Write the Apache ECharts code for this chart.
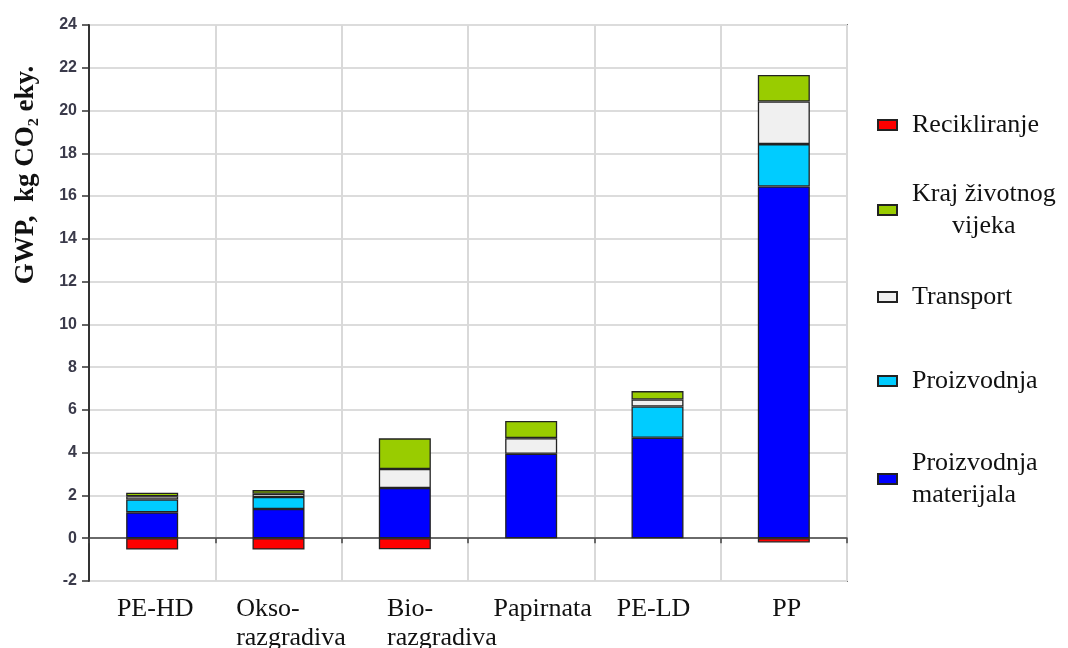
<!DOCTYPE html>
<html>
<head>
<meta charset="utf-8">
<script src="https://cdn.jsdelivr.net/npm/echarts@6/dist/echarts.min.js"></script>
<style>
html,body{margin:0;padding:0;background:#fff;}
#c{width:1068px;height:648px;}
</style>
</head>
<body>
<div id="c"></div>
<script>
var categories = ['PE-HD', 'Okso-\nrazgradiva', 'Bio-\nrazgradiva', 'Papirnata', 'PE-LD', 'PP'];
var recikliranje = [-0.53, -0.53, -0.52, null, null, -0.2];
var materijala = [1.21, 1.37, 2.35, 3.95, 4.70, 16.45];
var proizvodnja = [0.60, 0.56, null, null, 1.46, 1.98];
var transport = [0.15, 0.15, 0.89, 0.73, 0.33, 1.99];
var kraj = [0.17, 0.17, 1.43, 0.80, 0.39, 1.24];
var yTicks = [-2, 0, 2, 4, 6, 8, 10, 12, 14, 16, 18, 20, 22, 24];

var serif = "'Liberation Serif', 'Times New Roman', serif";
var names = ['Recikliranje', 'Kraj životnog vijeka', 'Transport', 'Proizvodnja', 'Proizvodnja materijala'];
var colors = {
  'Recikliranje': '#ff0000',
  'Kraj životnog vijeka': '#99cc00',
  'Transport': '#f0f0f0',
  'Proizvodnja': '#00ccff',
  'Proizvodnja materijala': '#0000ff'
};
var legendTops = [112, 181, 284, 368, 450];
var labelPad = [[0,0,0,6],[0,0,0,25],[0,0,0,74],[0,0,0,23],[0,8,0,0],[0,0,0,6]];

function mkSeries(name, data) {
  return {
    name: name, type: 'bar', stack: 'total', data: data, barWidth: 52,
    itemStyle: { color: colors[name], borderColor: '#222', borderWidth: 1.3 },
    emphasis: { disabled: true }
  };
}

var rich = {};
labelPad.forEach(function (p, i) {
  rich['r' + i] = { fontFamily: serif, fontSize: 26, lineHeight: 29, color: '#111', padding: p, align: 'left' };
});

var legends = names.map(function (n, i) {
  var fmt = n === 'Kraj životnog vijeka' ? '{a|Kraj životnog}\n{c|vijeka}' :
            n === 'Proizvodnja materijala' ? '{a|Proizvodnja}\n{a|materijala}' : '{a|' + n + '}';
  return {
    data: [n], orient: 'vertical', left: 877, top: legendTops[i], padding: 0,
    itemWidth: 19, itemHeight: 10, icon: 'rect', selectedMode: false,
    formatter: function () { return fmt; },
    textStyle: {
      padding: [0, 0, 0, 10],
      rich: {
        a: { fontFamily: serif, fontSize: 26, lineHeight: 32, color: '#111', align: 'left' },
        c: { fontFamily: serif, fontSize: 26, lineHeight: 32, color: '#111', align: 'center' }
      }
    }
  };
});

var chart = echarts.init(document.getElementById('c'), null, { renderer: 'canvas' });
chart.setOption({
  animation: false,
  backgroundColor: '#fff',
  grid: { left: 89, right: 221, top: 25, bottom: 67, containLabel: false, outerBoundsMode: 'none',
          show: true, borderColor: '#777', borderWidth: 2, backgroundColor: 'transparent' },
  legend: legends,
  xAxis: {
    type: 'category', data: categories,
    axisLine: { onZero: true, lineStyle: { color: '#444', width: 1.5 } },
    axisTick: { show: true, length: 5, lineStyle: { color: '#444', width: 1.5 } },
    splitLine: { show: true, lineStyle: { color: '#d9d9d9', width: 2 } },
    axisLabel: {
      interval: 0, margin: 14, color: '#111', hideOverlap: false,
      formatter: function (v, i) {
        return v.split('\n').map(function (s) { return '{r' + i + '|' + s + '}'; }).join('\n');
      },
      rich: rich
    }
  },
  yAxis: {
    type: 'value', min: -2, max: 24, interval: 2,
    axisLine: { show: true, lineStyle: { color: '#333', width: 2 } },
    axisTick: { show: true, length: 7, lineStyle: { color: '#333', width: 1.5 } },
    splitLine: { show: true, lineStyle: { color: '#dcdcdc', width: 2 } },
    axisLabel: {
      margin: 12, color: '#3a3a4a', fontFamily: "'Liberation Sans', Arial, sans-serif",
      fontSize: 16, fontWeight: 'bold',
      formatter: function (v) { return yTicks.indexOf(v) >= 0 ? String(v) : ''; }
    }
  },
  graphic: [{
    type: 'text', x: 26, y: 175, rotation: Math.PI / 2,
    style: {
      text: 'GWP,  kg CO₂ eky.', font: "bold 27px 'Liberation Serif', serif",
      fill: '#111', align: 'center', verticalAlign: 'middle'
    }
  }],
  series: [
    mkSeries('Proizvodnja materijala', materijala),
    mkSeries('Proizvodnja', proizvodnja),
    mkSeries('Transport', transport),
    mkSeries('Kraj životnog vijeka', kraj),
    mkSeries('Recikliranje', recikliranje)
  ]
});
</script>
</body>
</html>
